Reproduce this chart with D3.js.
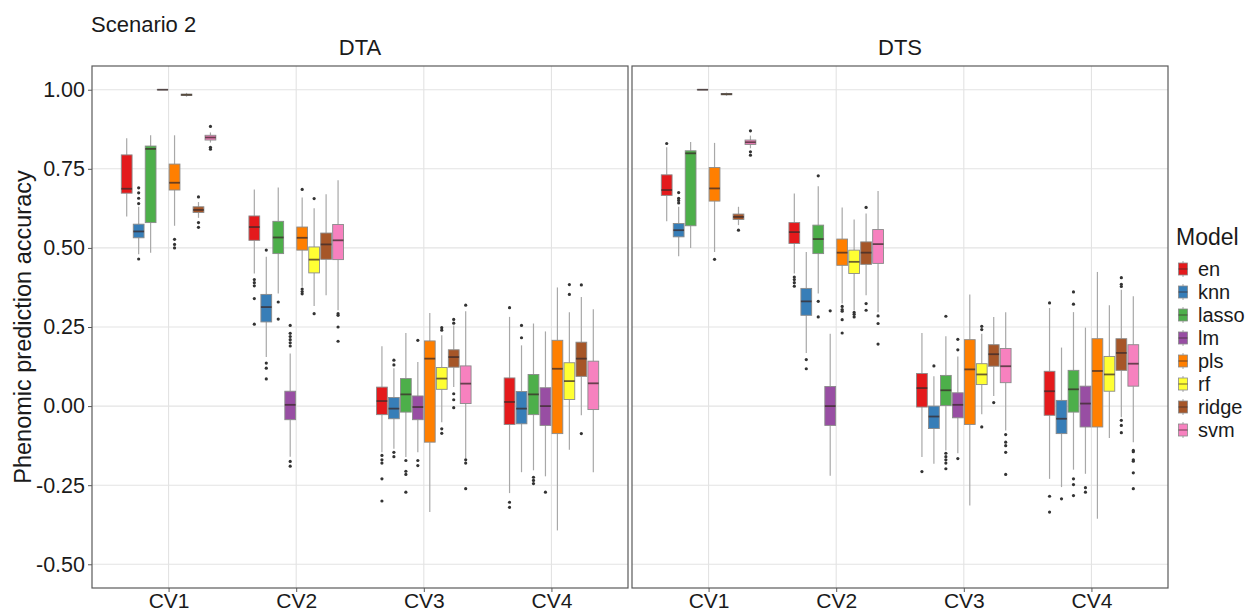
<!DOCTYPE html>
<html>
<head>
<meta charset="utf-8">
<script src="https://cdn.jsdelivr.net/npm/d3@7/dist/d3.min.js"></script>
<style>
  html, body { margin: 0; padding: 0; background: #fff; }
  svg text { font-family: "Liberation Sans", Arial, Helvetica, sans-serif; }
</style>
</head>
<body>
<svg id="chart" width="1256" height="613"></svg>
<script>
// Categories
const traits = ["DTA", "DTS"];
const cvs = ["CV1", "CV2", "CV3", "CV4"];
const models = ["en", "knn", "lasso", "lm", "pls", "rf", "ridge", "svm"];
const modelColors = ["#E41A1C", "#377EB8", "#4DAF4A", "#984EA3", "#FF7F00", "#FFFF33", "#A65628", "#F781BF"];
const yTicks = [-0.5, -0.25, 0, 0.25, 0.5, 0.75, 1.0];

// Box statistics per model: [lower whisker, Q1, median, Q3, upper whisker], then outliers
const dtaCV1 = [
  [0.599, 0.673, 0.687, 0.794, 0.847, []],
  [0.480, 0.532, 0.552, 0.575, 0.630, [0.640, 0.657, 0.674, 0.690, 0.465]],
  [0.485, 0.580, 0.813, 0.822, 0.856, []],
  [1.000, 1.000, 1.000, 1.000, 1.000, []],
  [0.570, 0.683, 0.706, 0.765, 0.856, [0.527, 0.511, 0.500]],
  [0.978, 0.982, 0.984, 0.986, 0.990, []],
  [0.595, 0.612, 0.620, 0.630, 0.645, [0.661, 0.580, 0.565]],
  [0.833, 0.841, 0.849, 0.856, 0.865, [0.884, 0.812, 0.818]]
];
const dtaCV2 = [
  [0.419, 0.524, 0.566, 0.601, 0.685, [0.400, 0.390, 0.380, 0.340, 0.259]],
  [0.155, 0.266, 0.313, 0.353, 0.472, [0.493, 0.136, 0.120, 0.086]],
  [0.356, 0.482, 0.533, 0.584, 0.691, [0.329, 0.275]],
  [-0.160, -0.043, 0.004, 0.047, 0.166, [0.255, 0.230, 0.220, 0.210, 0.200, 0.190, -0.175, -0.190]],
  [0.377, 0.493, 0.532, 0.566, 0.659, [0.685, 0.370, 0.362, 0.355]],
  [0.316, 0.421, 0.463, 0.503, 0.625, [0.656, 0.292]],
  [0.350, 0.464, 0.511, 0.547, 0.670, []],
  [0.303, 0.463, 0.524, 0.574, 0.714, [0.292, 0.287, 0.250, 0.205]]
];
const dtaCV3 = [
  [-0.146, -0.027, 0.016, 0.060, 0.189, [-0.156, -0.170, -0.180, -0.230, -0.300]],
  [-0.135, -0.040, -0.008, 0.027, 0.120, [0.145, 0.130, -0.146, -0.160]],
  [-0.161, -0.019, 0.037, 0.087, 0.231, [-0.172, -0.206, -0.216, -0.272]],
  [-0.146, -0.043, -0.003, 0.032, 0.139, [0.208, -0.172, -0.188]],
  [-0.335, -0.114, 0.150, 0.206, 0.294, []],
  [-0.051, 0.053, 0.087, 0.122, 0.224, [0.240, 0.248, -0.072, -0.086]],
  [0.060, 0.123, 0.155, 0.178, 0.255, [0.274, 0.262, 0.039, 0.020, -0.005]],
  [-0.166, 0.008, 0.071, 0.127, 0.300, [0.319, -0.170, -0.180, -0.261]]
];
const dtaCV4 = [
  [-0.275, -0.058, 0.013, 0.089, 0.282, [0.311, -0.304, -0.320]],
  [-0.209, -0.056, -0.008, 0.046, 0.192, [0.255, 0.216]],
  [-0.203, -0.027, 0.037, 0.100, 0.261, [-0.225, -0.235, -0.245]],
  [-0.222, -0.061, 0.000, 0.058, 0.236, [-0.272]],
  [-0.393, -0.087, 0.118, 0.208, 0.375, []],
  [-0.138, 0.021, 0.079, 0.137, 0.297, [0.384, 0.353]],
  [-0.029, 0.094, 0.150, 0.202, 0.345, [0.383, -0.087]],
  [-0.209, -0.011, 0.072, 0.142, 0.306, []]
];
const dtsCV1 = [
  [0.584, 0.666, 0.683, 0.731, 0.818, [0.830]],
  [0.474, 0.535, 0.556, 0.577, 0.630, [0.675, 0.657, 0.650, 0.642]],
  [0.500, 0.570, 0.799, 0.807, 0.835, []],
  [1.000, 1.000, 1.000, 1.000, 1.000, []],
  [0.487, 0.648, 0.688, 0.754, 0.832, [0.464]],
  [0.981, 0.984, 0.986, 0.988, 0.991, []],
  [0.572, 0.590, 0.598, 0.607, 0.630, [0.556]],
  [0.815, 0.827, 0.834, 0.841, 0.855, [0.870, 0.804, 0.793]]
];
const dtsCV2 = [
  [0.419, 0.514, 0.550, 0.580, 0.672, [0.408, 0.400, 0.390, 0.379]],
  [0.168, 0.287, 0.331, 0.372, 0.487, [0.147, 0.118]],
  [0.356, 0.482, 0.528, 0.572, 0.695, [0.728, 0.331, 0.282]],
  [-0.220, -0.061, 0.000, 0.062, 0.229, [0.301]],
  [0.324, 0.445, 0.485, 0.528, 0.628, [0.315, 0.305, 0.300, 0.273, 0.231]],
  [0.303, 0.419, 0.456, 0.493, 0.590, [0.296, 0.290, 0.282]],
  [0.350, 0.448, 0.485, 0.519, 0.609, [0.628, 0.324, 0.303]],
  [0.297, 0.451, 0.512, 0.558, 0.680, [0.285, 0.261, 0.196]]
];
const dtsCV3 = [
  [-0.161, -0.003, 0.057, 0.103, 0.231, [-0.207]],
  [-0.182, -0.071, -0.033, 0.000, 0.094, [0.127]],
  [-0.140, 0.002, 0.050, 0.097, 0.221, [0.284, -0.149, -0.160, -0.170, -0.180, -0.198]],
  [-0.149, -0.037, 0.004, 0.042, 0.157, [0.211, 0.178, -0.166]],
  [-0.314, -0.058, 0.116, 0.210, 0.353, []],
  [-0.026, 0.068, 0.100, 0.134, 0.229, [0.252, 0.242, -0.066]],
  [0.032, 0.126, 0.164, 0.194, 0.282, [0.011]],
  [-0.077, 0.074, 0.126, 0.182, 0.297, [-0.090, -0.114, -0.125, -0.146, -0.216]]
];
const dtsCV4 = [
  [-0.230, -0.029, 0.047, 0.110, 0.310, [0.326, -0.285, -0.335]],
  [-0.256, -0.087, -0.040, 0.018, 0.185, [-0.293]],
  [-0.201, -0.019, 0.053, 0.113, 0.297, [0.361, 0.322, -0.230, -0.248, -0.283]],
  [-0.214, -0.066, 0.008, 0.063, 0.248, [-0.258, -0.272]],
  [-0.356, -0.066, 0.111, 0.213, 0.424, []],
  [-0.101, 0.047, 0.100, 0.157, 0.319, []],
  [-0.035, 0.113, 0.168, 0.213, 0.368, [0.406, 0.385, 0.378, -0.045, -0.061, -0.084]],
  [-0.114, 0.063, 0.134, 0.194, 0.347, [-0.140, -0.144, -0.170, -0.174, -0.211, -0.261]]
];

const panelStats = [
  [dtaCV1, dtaCV2, dtaCV3, dtaCV4],
  [dtsCV1, dtsCV2, dtsCV3, dtsCV4]
];

// Layout
const panelTop = 66, panelBottom = 588, panelW = 536;
const panelLefts = [92, 632];
const fontFam = '"Liberation Sans", Arial, Helvetica, sans-serif';
const textCol = "#1a1a1a";
const tickFont = 21.5;

const svg = d3.select("#chart");
const color = d3.scaleOrdinal().domain(models).range(modelColors);

const y = d3.scaleLinear().domain([-0.575, 1.075]).range([panelBottom, panelTop]);

svg.append("text")
  .attr("x", 91).attr("y", 32)
  .attr("font-size", 22).attr("fill", textCol)
  .text("Scenario 2");

traits.forEach((trait, pi) => {
  const x0 = panelLefts[pi];
  const x = d3.scalePoint().domain(cvs).range([x0, x0 + panelW]).padding(0.6);
  const step = x.step();
  const dodge = d3.scaleBand().domain(models).range([-0.375 * step, 0.375 * step]);
  const bw = dodge.bandwidth() * 0.9;

  const g = svg.append("g");

  // grid
  g.selectAll(".hgrid").data(yTicks).join("line")
    .attr("x1", x0).attr("x2", x0 + panelW)
    .attr("y1", d => y(d)).attr("y2", d => y(d))
    .attr("stroke", "#e3e3e3").attr("stroke-width", 1.1);
  g.selectAll(".vgrid").data(cvs).join("line")
    .attr("x1", d => x(d)).attr("x2", d => x(d))
    .attr("y1", panelTop).attr("y2", panelBottom)
    .attr("stroke", "#e3e3e3").attr("stroke-width", 1.1);

  // strip label
  g.append("text")
    .attr("x", x0 + panelW / 2).attr("y", 55)
    .attr("text-anchor", "middle")
    .attr("font-size", 22).attr("fill", textCol)
    .text(trait);

  // boxes
  cvs.forEach((cv, ci) => {
    const stats = panelStats[pi][ci];
    stats.forEach((s, mi) => {
      const m = models[mi];
      const cx = x(cv) + dodge(m) + dodge.bandwidth() / 2;
      const [lo, q1, med, q3, hi, outs] = s;
      const bg = g.append("g");
      bg.append("line")
        .attr("x1", cx).attr("x2", cx)
        .attr("y1", y(hi)).attr("y2", y(q3))
        .attr("stroke", "#a8a8a8").attr("stroke-width", 1.2);
      bg.append("line")
        .attr("x1", cx).attr("x2", cx)
        .attr("y1", y(q1)).attr("y2", y(lo))
        .attr("stroke", "#a8a8a8").attr("stroke-width", 1.2);
      bg.append("rect")
        .attr("x", cx - bw / 2).attr("width", bw)
        .attr("y", y(q3)).attr("height", Math.max(0.01, y(q1) - y(q3)))
        .attr("fill", color(m))
        .attr("stroke", "#8a8a8a").attr("stroke-width", 0.9);
      bg.append("line")
        .attr("x1", cx - bw / 2).attr("x2", cx + bw / 2)
        .attr("y1", y(med)).attr("y2", y(med))
        .attr("stroke", "#3a2a2a").attr("stroke-opacity", 0.75)
        .attr("stroke-width", 1.8);
      bg.selectAll("circle").data(outs).join("circle")
        .attr("cx", cx).attr("cy", d => y(d)).attr("r", 1.6)
        .attr("fill", "#333");
    });
  });

  // panel border
  g.append("rect")
    .attr("x", x0).attr("y", panelTop)
    .attr("width", panelW).attr("height", panelBottom - panelTop)
    .attr("fill", "none").attr("stroke", "#5a5a5a").attr("stroke-width", 1.2);

  // x axis
  const xa = g.append("g").attr("transform", `translate(0,${panelBottom})`)
    .call(d3.axisBottom(x).tickSize(4).tickPadding(1));
  xa.select(".domain").remove();
  xa.selectAll(".tick line").attr("stroke", "#5a5a5a");
  xa.selectAll(".tick text")
    .attr("font-size", 21).attr("fill", textCol)
    .attr("font-family", fontFam);

  // y axis only on first panel
  if (pi === 0) {
    const ya = g.append("g").attr("transform", `translate(${x0},0)`)
      .call(d3.axisLeft(y).tickValues(yTicks).tickFormat(d => d.toFixed(2)).tickSize(4).tickPadding(3));
    ya.select(".domain").remove();
    ya.selectAll(".tick line").attr("stroke", "#5a5a5a");
    ya.selectAll(".tick text")
      .attr("font-size", tickFont).attr("fill", textCol)
      .attr("font-family", fontFam);
  }
});

// y axis title
svg.append("text")
  .attr("transform", `translate(31,${(panelTop + panelBottom) / 2}) rotate(-90)`)
  .attr("text-anchor", "middle")
  .attr("font-size", 23.5).attr("fill", textCol)
  .text("Phenomic prediction accuracy");

// legend
const lg = svg.append("g").attr("transform", "translate(1176,0)");
lg.append("text").attr("x", 0).attr("y", 245)
  .attr("font-size", 23).attr("fill", textCol).text("Model");
models.forEach((m, i) => {
  const cy = 269 + i * 23;
  const kx = 7;
  lg.append("line").attr("x1", kx).attr("x2", kx).attr("y1", cy - 8).attr("y2", cy + 8)
    .attr("stroke", "#a8a8a8").attr("stroke-width", 1);
  lg.append("rect").attr("x", kx - 4.5).attr("y", cy - 6).attr("width", 9).attr("height", 12)
    .attr("fill", color(m)).attr("stroke", "#8a8a8a").attr("stroke-width", 0.8);
  lg.append("line").attr("x1", kx - 4.5).attr("x2", kx + 4.5).attr("y1", cy).attr("y2", cy)
    .attr("stroke", "#3a2a2a").attr("stroke-opacity", 0.6).attr("stroke-width", 1.2);
  lg.append("text").attr("x", 22).attr("y", cy + 7)
    .attr("font-size", 20).attr("fill", textCol).text(m);
});
</script>
</body>
</html>
